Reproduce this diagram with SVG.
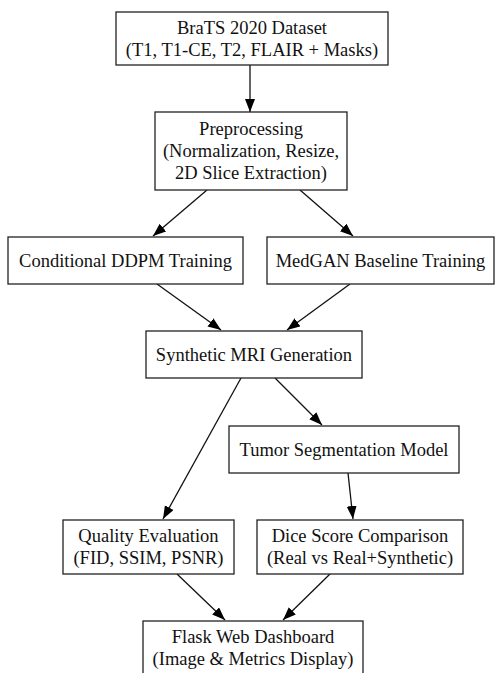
<svg xmlns="http://www.w3.org/2000/svg" width="497" height="673" viewBox="0 0 497 673">
<defs>
<marker id="ah" markerUnits="userSpaceOnUse" markerWidth="14" markerHeight="12" refX="13" refY="5" orient="auto">
<path d="M0,0 L13,5 L0,10 Z" fill="#000"/>
</marker>
<style>
.n rect{fill:#fff;stroke:#222;stroke-width:1.3}
.n text{font-family:"Liberation Serif","Times New Roman",serif;font-size:18.5px;fill:#111;text-anchor:middle}
.e line{stroke:#111;stroke-width:1.3;marker-end:url(#ah)}
</style>
</defs>
<rect width="497" height="673" fill="#fff"/>
<g id="edges" class="e">
<line x1="250" y1="65" x2="250" y2="112"/>
<line x1="207" y1="190" x2="153" y2="236"/>
<line x1="300" y1="190" x2="353" y2="236"/>
<line x1="157" y1="284" x2="221" y2="330"/>
<line x1="350" y1="284" x2="287" y2="330"/>
<line x1="275" y1="378" x2="322" y2="425"/>
<line x1="241" y1="378" x2="163" y2="519"/>
<line x1="348" y1="473" x2="353" y2="519"/>
<line x1="177" y1="574" x2="225" y2="620"/>
<line x1="330" y1="574" x2="283" y2="620"/>
</g>
<g id="dataset" class="n"><rect x="116" y="12" width="272" height="53"/><text x="252" y="33.5">BraTS 2020 Dataset</text><text x="252" y="55.5">(T1, T1-CE, T2, FLAIR + Masks)</text></g>
<g id="preprocessing" class="n"><rect x="155" y="112" width="192" height="78"/><text x="251" y="135">Preprocessing</text><text x="251" y="157">(Normalization, Resize,</text><text x="251" y="179">2D Slice Extraction)</text></g>
<g id="ddpm" class="n"><rect x="8" y="237" width="235" height="47"/><text x="125.5" y="266.5">Conditional DDPM Training</text></g>
<g id="medgan" class="n"><rect x="267" y="237" width="227" height="47"/><text x="380.5" y="266.5">MedGAN Baseline Training</text></g>
<g id="synthetic" class="n"><rect x="146" y="331" width="216" height="47"/><text x="254" y="360.5">Synthetic MRI Generation</text></g>
<g id="segmentation" class="n"><rect x="229" y="426" width="230" height="47"/><text x="344" y="455.5">Tumor Segmentation Model</text></g>
<g id="quality" class="n"><rect x="63" y="520" width="171" height="54"/><text x="148.5" y="542">Quality Evaluation</text><text x="148.5" y="564">(FID, SSIM, PSNR)</text></g>
<g id="dice" class="n"><rect x="257" y="520" width="206" height="54"/><text x="360" y="542">Dice Score Comparison</text><text x="360" y="564">(Real vs Real+Synthetic)</text></g>
<g id="dashboard" class="n"><rect x="143" y="621" width="220" height="60"/><text x="253" y="643">Flask Web Dashboard</text><text x="253" y="665">(Image &amp; Metrics Display)</text></g>
</svg>
